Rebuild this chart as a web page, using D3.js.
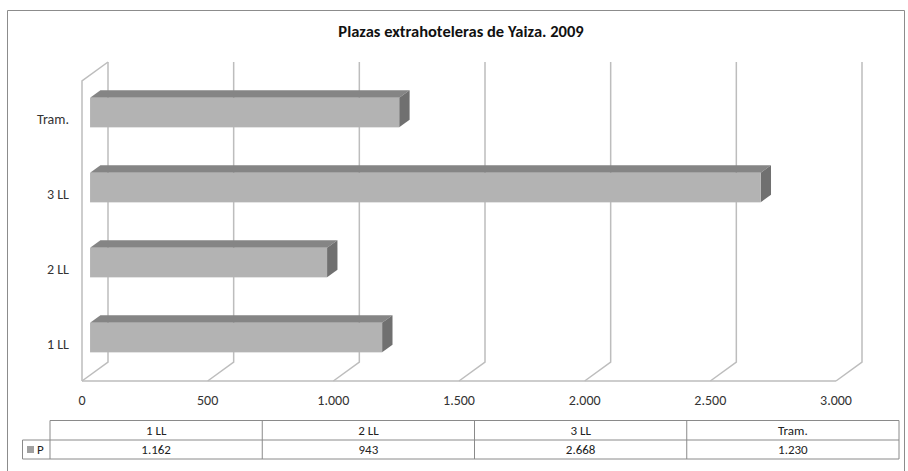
<!DOCTYPE html>
<html>
<head>
<meta charset="utf-8">
<script src="https://cdn.jsdelivr.net/npm/d3@7"></script>
<style>
  body { margin: 0; background: #fff; }
  svg { display: block; font-family: Carlito, Calibri, Lato, sans-serif; }
</style>
</head>
<body>
<div id="visualization"></div>
<script>
// data
var categories = ['1 LL', '2 LL', '3 LL', 'Tram.'];
var values = [1162, 943, 2668, 1230];
var seriesName = 'P';
var tickValues = [0, 500, 1000, 1500, 2000, 2500, 3000];

var width = 908,
    height = 471;

var svg = d3.select('#visualization')
    .append('svg')
    .attr('width', width)
    .attr('height', height);

// number format with dots as thousands separator
var loc = d3.formatLocale({ decimal: ',', thousands: '.', grouping: [3], currency: ['', ''] });
var fmt = loc.format(',d');

// outer frame
svg.append('path')
    .attr('d', 'M7.5,471 V10.5 H904.5 V471')
    .attr('fill', 'none')
    .attr('stroke', '#8c8c8c')
    .attr('stroke-width', 1);

svg.append('text')
    .attr('x', 461)
    .attr('y', 37)
    .attr('text-anchor', 'middle')
    .style('font-size', '16.5px')
    .style('font-weight', 'bold')
    .attr('fill', '#111')
    .text('Plazas extrahoteleras de Yaiza. 2009');

// back wall scales
var x = d3.scaleLinear().domain([0, 3000]).range([108, 862]);
var y = d3.scaleBand()
    .domain(categories.slice().reverse())
    .range([62, 362]);

// depth projection
var depthX = 26, depthY = 19;
function px(v, d) { return x(v) - d * depthX; }
function py(yy, d) { return yy + d * depthY; }

var gridColor = '#bdbdbd';
var grid = svg.append('g').attr('fill', 'none').attr('stroke', gridColor).attr('stroke-width', 1.5);

// vertical gridlines on back wall + floor diagonals
tickValues.forEach(function(t) {
    grid.append('path')
        .attr('d', 'M' + px(t, 0) + ',' + py(62, 0) + ' V' + py(362, 0) +
            ' L' + px(t, 1) + ',' + py(362, 1));
});
// floor front edge
grid.append('path')
    .attr('d', 'M' + px(0, 1) + ',' + py(362, 1) + ' H' + px(3000, 1));
// left side wall
grid.append('path')
    .attr('d', 'M' + px(0, 0) + ',' + py(62, 0) + ' L' + px(0, 1) + ',' + py(62, 1) +
        ' V' + py(362, 1));

// x tick labels
svg.append('g')
    .selectAll('text')
    .data(tickValues)
    .enter()
    .append('text')
    .attr('x', function(d) { return px(d, 1); })
    .attr('y', 405)
    .attr('text-anchor', 'middle')
    .style('font-size', '14px')
    .attr('fill', '#333')
    .text(function(d) { return fmt(d); });

// category labels
svg.append('g')
    .selectAll('text')
    .data(categories)
    .enter()
    .append('text')
    .attr('x', 69)
    .attr('y', function(d) { return py(y(d) + y.bandwidth() / 2, 1) + 5; })
    .attr('text-anchor', 'end')
    .style('font-size', '14px')
    .attr('fill', '#333')
    .text(function(d) { return d; });

// 3d bars
var dFront = 0.69, dBack = 0.29, barH = 29.5;
var bars = svg.append('g')
    .selectAll('g')
    .data(categories.map(function(c, i) { return { cat: c, value: values[i] }; }))
    .enter()
    .append('g');

function barTop(d) { return y(d.cat) + y.bandwidth() / 2 - barH / 2; }

// top face
bars.append('path')
    .attr('fill', '#858585')
    .attr('d', function(d) {
        var t = barTop(d);
        return 'M' + px(0, dFront) + ',' + py(t, dFront) +
            ' L' + px(0, dBack) + ',' + py(t, dBack) +
            ' L' + px(d.value, dBack) + ',' + py(t, dBack) +
            ' L' + px(d.value, dFront) + ',' + py(t, dFront) + 'Z';
    });
// side face
bars.append('path')
    .attr('fill', '#707070')
    .attr('d', function(d) {
        var t = barTop(d);
        return 'M' + px(d.value, dFront) + ',' + py(t, dFront) +
            ' L' + px(d.value, dBack) + ',' + py(t, dBack) +
            ' L' + px(d.value, dBack) + ',' + py(t + barH, dBack) +
            ' L' + px(d.value, dFront) + ',' + py(t + barH, dFront) + 'Z';
    });
// front face
bars.append('rect')
    .attr('fill', '#b3b3b3')
    .attr('x', function(d) { return px(0, dFront); })
    .attr('y', function(d) { return py(barTop(d), dFront); })
    .attr('width', function(d) { return x(d.value) - x(0); })
    .attr('height', barH);

// data table
var tableX = 50, tableR = 899, legendX = 22.5;
var rowTop = 420.5, rowMid = 440, rowBot = 459;
var col = d3.scaleBand().domain(categories).range([tableX, tableR]);
var table = svg.append('g');
var lineColor = '#8a8a8a';

table.append('path')
    .attr('fill', 'none')
    .attr('stroke', lineColor)
    .attr('stroke-width', 1)
    .attr('d', 'M' + tableX + ',' + rowTop + ' H' + tableR + ' V' + rowBot + ' H' + legendX +
        ' V' + rowMid + ' H' + tableR + ' M' + tableX + ',' + rowTop + ' V' + rowBot);

table.selectAll('line.col')
    .data(categories.slice(1))
    .enter()
    .append('line')
    .attr('class', 'col')
    .attr('x1', function(d) { return col(d); })
    .attr('x2', function(d) { return col(d); })
    .attr('y1', rowTop)
    .attr('y2', rowBot)
    .attr('stroke', lineColor);

table.selectAll('text.head')
    .data(categories)
    .enter()
    .append('text')
    .attr('class', 'head')
    .attr('x', function(d) { return col(d) + col.bandwidth() / 2; })
    .attr('y', 435)
    .attr('text-anchor', 'middle')
    .style('font-size', '13px')
    .attr('fill', '#222')
    .text(function(d) { return d; });

table.selectAll('text.val')
    .data(values)
    .enter()
    .append('text')
    .attr('class', 'val')
    .attr('x', function(d, i) { return col(categories[i]) + col.bandwidth() / 2; })
    .attr('y', 454)
    .attr('text-anchor', 'middle')
    .style('font-size', '13px')
    .attr('fill', '#222')
    .text(function(d) { return fmt(d); });

// legend key
table.append('rect')
    .attr('x', 27)
    .attr('y', 446)
    .attr('width', 7)
    .attr('height', 7)
    .attr('fill', '#a0a0a0');
table.append('text')
    .attr('x', 37)
    .attr('y', 454)
    .style('font-size', '13px')
    .attr('fill', '#222')
    .text(seriesName);
</script>
</body>
</html>
